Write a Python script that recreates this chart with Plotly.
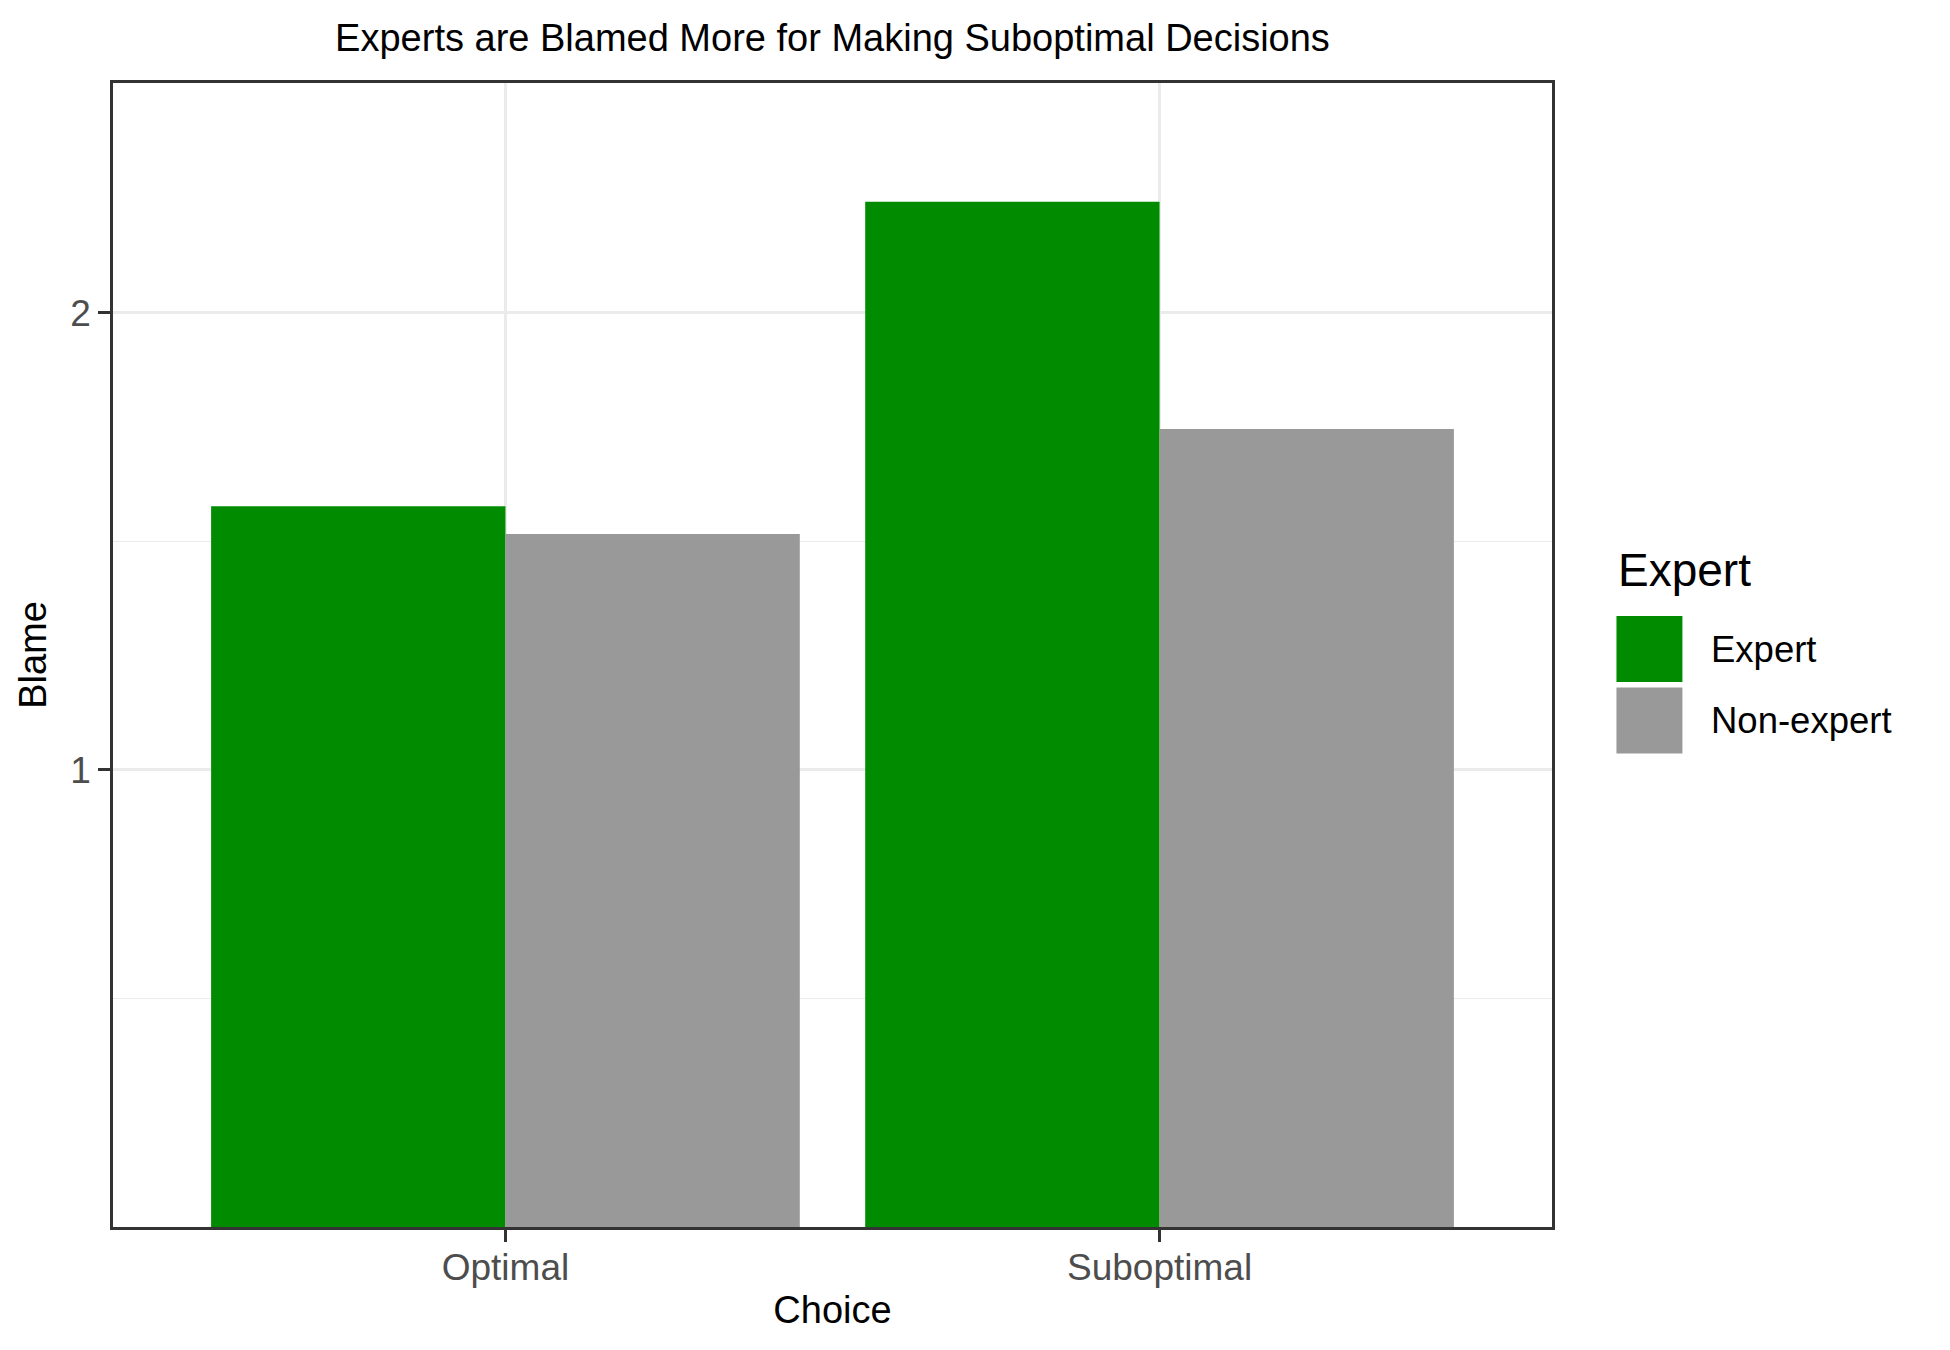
import plotly.graph_objects as go

# data
choices = ["Optimal", "Suboptimal"]
groups = ["Expert", "Non-expert"]
blame_expert = [1.577, 2.243]
blame_nonexpert = [1.516, 1.746]
colors = ["#008B00", "#999999"]

# the page body adds 8px of margin, so the figure is shrunk and shifted back by that
OFF = 8
W, H = 1950 - OFF, 1350 - OFF
L, T = 112.5 - OFF, 82.5 - OFF
R, B = W - (1552.5 - OFF), H - (1227.5 - OFF)
FONT = "Liberation Sans"


def px_x(x):
    return (x - OFF - L) / (W - L - R)


def px_y(y):
    return (H - B - (y - OFF)) / (H - T - B)


fig = go.Figure()
for name, vals, col in zip(groups, [blame_expert, blame_nonexpert], colors):
    fig.add_trace(go.Bar(x=choices, y=vals, name=name, marker=dict(color=col, line=dict(width=0)),
                         showlegend=False))

fig.update_layout(
    width=W, height=H,
    margin=dict(l=L, r=R, t=T, b=B),
    paper_bgcolor="white", plot_bgcolor="white",
    barmode="group", bargap=0.1, bargroupgap=0,
    font=dict(family=FONT, size=37, color="black"),
    title=dict(text="Experts are Blamed More for Making Suboptimal Decisions",
               x=0.5, xref="paper", xanchor="center",
               y=1 - (37.5 - OFF) / H, yref="container", yanchor="middle",
               font=dict(size=38, color="black")),
)

fig.update_xaxes(
    range=[-0.6, 1.6],
    showgrid=True, gridcolor="#EBEBEB", gridwidth=2.7,
    showline=True, mirror=True, linecolor="#333333", linewidth=2.5,
    ticks="outside", ticklen=12, tickwidth=2.5, tickcolor="#333333",
    tickfont=dict(size=37, color="#4D4D4D"), ticklabelstandoff=-6,
    title=dict(text="Choice", font=dict(size=38, color="black"), standoff=10),
)
fig.update_yaxes(
    range=[0, 2.503],
    tickmode="array", tickvals=[1, 2], ticktext=["1", "2"],
    showgrid=True, gridcolor="#EBEBEB", gridwidth=2.7, zeroline=False,
    minor=dict(tickmode="array", tickvals=[0.5, 1.5], showgrid=True,
               gridcolor="#EBEBEB", gridwidth=1.4, ticks=""),
    showline=True, mirror=True, linecolor="#333333", linewidth=2.5,
    ticks="outside", ticklen=12, tickwidth=2.5, tickcolor="#333333",
    tickfont=dict(size=37, color="#4D4D4D"),
    title=dict(text="Blame", font=dict(size=38, color="black"), standoff=12),
)

# legend drawn to match ggplot key size
fig.add_annotation(text="Expert", x=px_x(1617), y=px_y(570), xref="paper", yref="paper",
                   xanchor="left", yanchor="middle", showarrow=False,
                   font=dict(size=46, color="black"))
key_top = 616
key_size = 66
for i, (name, col) in enumerate(zip(groups, colors)):
    y0 = key_top + i * (key_size + 5.5)
    fig.add_shape(type="rect", xref="paper", yref="paper",
                  x0=px_x(1617), x1=px_x(1617 + key_size),
                  y0=px_y(y0), y1=px_y(y0 + key_size),
                  fillcolor=col, line=dict(width=0))
    fig.add_annotation(text=name, x=px_x(1710), y=px_y(y0 + key_size / 2), xref="paper", yref="paper",
                       xanchor="left", yanchor="middle", showarrow=False,
                       font=dict(size=36.5, color="black"))

fig.write_html("out.html")
